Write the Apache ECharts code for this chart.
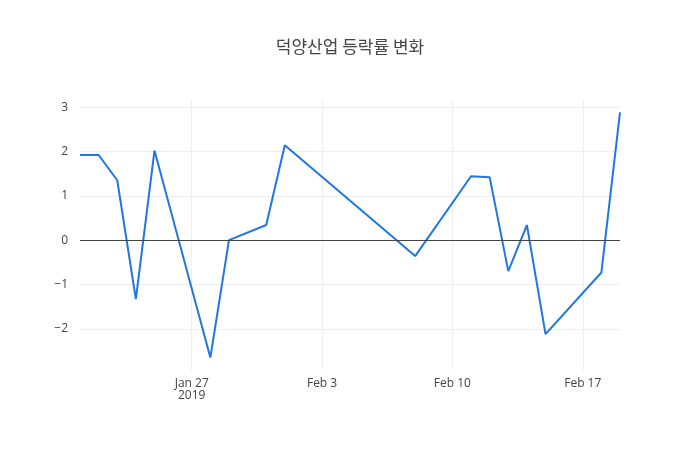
<!DOCTYPE html>
<html><head><meta charset="utf-8">
<script src="https://cdn.jsdelivr.net/npm/echarts@6/dist/echarts.min.js"></script>
<style>body{margin:0}#main{width:700px;height:450px}</style>
</head><body><div id="main"></div>
<script>
var dates = ['2019-01-21','2019-01-22','2019-01-23','2019-01-24','2019-01-25','2019-01-28','2019-01-29',
  '2019-01-31','2019-02-01','2019-02-08','2019-02-11','2019-02-12','2019-02-13','2019-02-14','2019-02-15',
  '2019-02-18','2019-02-19'];
var rates = [1.92,1.92,1.35,-1.33,2.02,-2.65,0.0,0.34,2.14,-0.36,1.44,1.42,-0.7,0.34,-2.12,-0.73,2.88];
var xTicks = ['2019-01-27','2019-02-03','2019-02-10','2019-02-17'];
var yTicks = [-2,-1,0,1,2,3];

function t(d){ return new Date(d + 'T00:00:00').getTime(); }
var monthNames = ['Jan','Feb','Mar','Apr','May','Jun','Jul','Aug','Sep','Oct','Nov','Dec'];

var myChart = echarts.init(document.getElementById('main'));
var option = {
    title: {
        text: '덕양산업 등락률 변화',
        left: 'center', top: 33,
        textStyle: {fontFamily: 'Noto Sans CJK KR', fontSize: 17, fontWeight: 'normal', color: '#444'}
    },
    grid: {left: 80, right: 80, top: 100, bottom: 80},
    xAxis: {
        type: 'value',
        min: t(dates[0]), max: t(dates[dates.length - 1]),
        axisLine: {show: false},
        axisTick: {show: false, customValues: xTicks.map(t)},
        splitLine: {show: true, lineStyle: {color: '#eee'}},
        axisLabel: {
            customValues: xTicks.map(t),
            color: '#444', fontFamily: 'Open Sans', fontSize: 12, margin: 8,
            formatter: function (v) {
                var d = new Date(v);
                var s = monthNames[d.getMonth()] + ' ' + d.getDate();
                return v === t(xTicks[0]) ? s + '\n' + d.getFullYear() : s;
            }
        }
    },
    yAxis: {
        type: 'value',
        min: -2.93, max: 3.16,
        axisLine: {show: false},
        axisTick: {show: false, customValues: yTicks},
        splitLine: {show: true, lineStyle: {color: '#eee'}},
        axisLabel: {
            customValues: yTicks,
            color: '#444', fontFamily: 'Open Sans', fontSize: 12, margin: 12,
            formatter: function (v) { return v < 0 ? '\u2212' + (-v) : String(v); }
        }
    },
    series: [{
        type: 'line',
        data: dates.map(function (d, i) { return [t(d), rates[i]]; }),
        showSymbol: false,
        lineStyle: {color: '#1f77e4', width: 2},
        itemStyle: {color: '#1f77e4'},
        markLine: {
            silent: true, symbol: 'none', label: {show: false},
            lineStyle: {color: '#444', width: 1, type: 'solid'},
            data: [{yAxis: 0}]
        }
    }]
};
myChart.setOption(option);
</script></body></html>
